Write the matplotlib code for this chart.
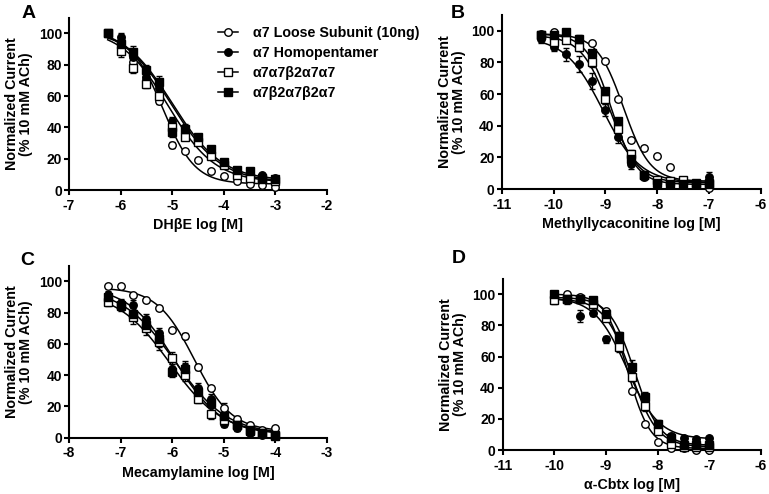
import numpy as np
import matplotlib
matplotlib.use("Agg")
import matplotlib.pyplot as plt
from matplotlib.lines import Line2D

plt.rcParams['font.family'] = ['Liberation Sans', 'DejaVu Sans']
plt.rcParams['font.weight'] = 'bold'
plt.rcParams['axes.unicode_minus'] = False

series_labels = ["\u03b17 Loose Subunit (10ng)", "\u03b17 Homopentamer",
                 "\u03b17\u03b17\u03b22\u03b17\u03b17", "\u03b17\u03b22\u03b17\u03b22\u03b17"]

# ---- Panel A: DHbE ----
xA = [-6.25, -6.0, -5.75, -5.5, -5.25, -5.0, -4.75, -4.5, -4.25, -4.0, -3.75, -3.5, -3.25, -3.0]
A_loose = [100, 95, 82, 70, 57, 29, 25, 19, 12, 9, 6, 4, 3, 2]
A_homo = [100, 98, 85, 72, 65, 44, 39, 32, 25, 17, 12, 11, 10, 8]
A_a7b2one = [100, 89, 78, 68, 60, 40, 34, 31, 22, 16, 10, 8, 7, 6]
A_a7b2two = [100, 93, 88, 77, 69, 37, 39, 34, 26, 18, 13, 12, 8, 7]
A_err_loose = [0, 2, 2, 2, 2, 2, 1, 1, 1, 1, 1, 1, 1, 1]
A_err_homo = [0, 2, 3, 3, 3, 3, 2, 2, 2, 2, 2, 1, 1, 1]
A_err_a7b2one = [0, 4, 3, 3, 3, 4, 2, 2, 2, 2, 2, 2, 1, 1]
A_err_a7b2two = [0, 3, 4, 3, 4, 3, 3, 2, 2, 2, 2, 2, 1, 1]
# fit params: top, bottom, logIC50, hill
A_fit = [(100, 4, -5.18, 1.4), (105, 5, -5.02, 0.9), (103, 5, -5.08, 0.95), (105, 6, -5.0, 0.9)]

# ---- Panel B: Methyllycaconitine ----
xB = [-10.25, -10.0, -9.75, -9.5, -9.25, -9.0, -8.75, -8.5, -8.25, -8.0, -7.75, -7.5, -7.25, -7.0]
B_loose = [98, 99, 97, 95, 92, 81, 57, 31, 26, 21, 14, 6, 3, 1]
B_homo = [95, 90, 85, 79, 68, 50, 33, 16, 8, 4, 4, 3, 4, 8]
B_a7b2one = [97, 93, 94, 90, 80, 57, 38, 22, 9, 6, 5, 6, 4, 4]
B_a7b2two = [97, 97, 99, 95, 86, 62, 43, 19, 9, 4, 3, 3, 3, 3]
B_err_loose = [1, 1, 1, 1, 1, 1, 1, 1, 1, 1, 1, 1, 1, 1]
B_err_homo = [3, 3, 4, 5, 5, 4, 4, 3, 2, 2, 2, 2, 2, 3]
B_err_a7b2one = [2, 2, 2, 3, 3, 3, 3, 3, 2, 2, 2, 2, 2, 2]
B_err_a7b2two = [1, 1, 1, 2, 2, 2, 2, 2, 2, 2, 1, 1, 1, 1]
B_fit = [(98, 5, -8.65, 1.7), (96, 4, -9.05, 1.2), (97, 4, -8.92, 1.6), (98, 3, -8.88, 1.8)]

# ---- Panel C: Mecamylamine ----
xC = [-7.25, -7.0, -6.75, -6.5, -6.25, -6.0, -5.75, -5.5, -5.25, -5.0, -4.75, -4.5, -4.25, -4.0]
C_loose = [97, 97, 91, 88, 83, 69, 65, 45, 32, 19, 12, 8, 5, 6]
C_homo = [91, 86, 85, 76, 67, 44, 45, 32, 25, 9, 6, 3, 2, 1]
C_a7b2one = [87, 84, 77, 70, 61, 51, 40, 25, 15, 11, 8, 5, 3, 2]
C_a7b2two = [90, 85, 79, 72, 63, 42, 44, 29, 22, 14, 8, 4, 3, 1]
C_err_loose = [1, 1, 1, 1, 1, 1, 2, 2, 1, 3, 2, 1, 1, 1]
C_err_homo = [3, 3, 3, 3, 3, 3, 4, 3, 3, 2, 2, 1, 1, 1]
C_err_a7b2one = [3, 3, 4, 4, 5, 4, 4, 3, 3, 3, 3, 2, 1, 1]
C_err_a7b2two = [3, 3, 4, 4, 5, 3, 4, 3, 3, 3, 3, 2, 1, 1]
C_fit = [(96, 4, -5.57, 1.2), (97, 2, -5.95, 0.95), (94, 2, -6.05, 0.85), (96, 2, -5.95, 0.85)]

# ---- Panel D: alpha-Cbtx ----
xD = [-10.0, -9.75, -9.5, -9.25, -9.0, -8.75, -8.5, -8.25, -8.0, -7.75, -7.5, -7.25, -7.0]
D_loose = [99, 100, 98, 95, 89, 72, 38, 17, 5, 1, 1, 0, 0]
D_homo = [98, 96, 86, 88, 71, 70, 47, 30, 15, 9, 8, 7, 8]
D_a7b2one = [96, 97, 97, 94, 85, 66, 47, 28, 12, 4, 2, 2, 2]
D_a7b2two = [100, 97, 97, 96, 87, 73, 53, 34, 17, 8, 3, 3, 3]
D_err_loose = [1, 1, 1, 1, 1, 1, 1, 1, 1, 1, 1, 1, 1]
D_err_homo = [2, 2, 4, 2, 2, 3, 3, 3, 2, 2, 1, 1, 1]
D_err_a7b2one = [2, 2, 2, 2, 2, 3, 3, 3, 2, 2, 1, 1, 1]
D_err_a7b2two = [2, 2, 2, 2, 2, 3, 5, 3, 2, 2, 1, 1, 1]
D_fit = [(100, 1, -8.58, 2.0), (98, 7, -8.6, 1.4), (97, 2, -8.52, 1.7), (98, 3, -8.45, 1.8)]

styles = [dict(marker='o', mfc='white'), dict(marker='o', mfc='black'),
          dict(marker='s', mfc='white'), dict(marker='s', mfc='black')]

fig = plt.figure(figsize=(7.69, 4.94), dpi=100)

panels = [
    ("A", [0.0897, 0.615, 0.3355, 0.349], xA, [A_loose, A_homo, A_a7b2one, A_a7b2two],
     [A_err_loose, A_err_homo, A_err_a7b2one, A_err_a7b2two], A_fit, (-7, -2), "DH\u03b2E log [M]", (0.037, 0.972)),
    ("B", [0.6524, 0.617, 0.337, 0.353], xB, [B_loose, B_homo, B_a7b2one, B_a7b2two],
     [B_err_loose, B_err_homo, B_err_a7b2one, B_err_a7b2two], B_fit, (-11, -6), "Methyllycaconitine log [M]", (0.595, 0.972)),
    ("C", [0.0897, 0.114, 0.3355, 0.348], xC, [C_loose, C_homo, C_a7b2one, C_a7b2two],
     [C_err_loose, C_err_homo, C_err_a7b2one, C_err_a7b2two], C_fit, (-8, -3), "Mecamylamine log [M]", (0.036, 0.473)),
    ("D", [0.6537, 0.089, 0.336, 0.347], xD, [D_loose, D_homo, D_a7b2one, D_a7b2two],
     [D_err_loose, D_err_homo, D_err_a7b2one, D_err_a7b2two], D_fit, (-11, -6), "\u03b1-Cbtx log [M]", (0.596, 0.476)),
]

FS = 10.3
for letter, rect, xs, ys_list, err_list, fits, xlim, xlabel, lpos in panels:
    ax = fig.add_axes(rect)
    xx = np.linspace(min(xs), max(xs), 300)
    for ys, es, fit, st in zip(ys_list, err_list, fits, styles):
        top, bot, ic, h = fit
        ax.plot(xx, bot + (top - bot) / (1 + 10 ** (h * (xx - ic))), color='black', lw=1.1, zorder=2)
        ax.errorbar(xs, ys, yerr=es, fmt='none', ecolor='black', elinewidth=1.0, capsize=2.5,
                    capthick=1.0, zorder=3, clip_on=False)
        ax.plot(xs, ys, linestyle='none', marker=st['marker'], mfc=st['mfc'], mec='black',
                mew=1.0, ms=5.4, zorder=4, clip_on=False)
    ax.set_xlim(*xlim)
    ax.set_ylim(0, 110)
    ax.set_xticks(np.arange(xlim[0], xlim[1] + 1, 1))
    ax.set_yticks([0, 20, 40, 60, 80, 100])
    for s in ['top', 'right']:
        ax.spines[s].set_visible(False)
    for s in ['left', 'bottom']:
        ax.spines[s].set_linewidth(1.5)
    ax.tick_params(axis='both', direction='out', length=3.6, width=1.5, labelsize=FS - 0.3, pad=1.5)
    ax.tick_params(axis='x', pad=2.5)
    for lab in ax.get_xticklabels() + ax.get_yticklabels():
        lab.set_fontweight('bold')
    ax.set_xlabel(xlabel, fontsize=FS, fontweight='bold', labelpad=4)
    ax.set_ylabel("Normalized Current\n(% 10 mM ACh)", fontsize=FS, fontweight='bold', labelpad=4,
                  linespacing=1.0)
    fig.text(lpos[0], lpos[1], letter, fontsize=14, fontweight='bold', ha='center', va='center')

handles = [Line2D([0], [0], color='black', lw=1.1, marker=st['marker'], mfc=st['mfc'], mec='black',
                  mew=1.0, ms=5.4) for st in styles]
fig.legend(handles, series_labels, loc='upper left', bbox_to_anchor=(0.283, 0.948), frameon=False,
           prop=dict(size=FS, weight='bold'), handlelength=1.45, handletextpad=1.0, labelspacing=0.42,
           borderaxespad=0, borderpad=0)

fig.savefig("out.png", dpi=100)
